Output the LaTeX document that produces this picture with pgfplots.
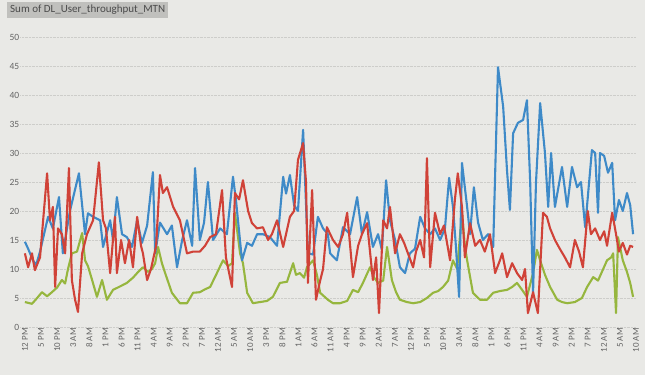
\documentclass[border=0pt]{standalone}
\usepackage{pgfplots}
\pgfplotsset{compat=1.18}
\usepackage{fontspec}
\setmainfont{Carlito}
\definecolor{bg}{RGB}{233,233,230}
\definecolor{sblue}{RGB}{62,138,200}
\definecolor{sred}{RGB}{208,66,56}
\definecolor{sgreen}{RGB}{150,182,62}
\definecolor{lbl}{RGB}{100,100,100}
\definecolor{gridc}{RGB}{205,205,202}
\begin{document}
\begin{tikzpicture}[x=1pt,y=1pt]
\fill[bg] (0,0) rectangle (645,375);
\useasboundingbox (0,0) rectangle (645,375);
\node[fill={rgb,255:red,192;green,192;blue,189}, text={rgb,255:red,75;green,75;blue,75}, anchor=north west, inner xsep=3pt, inner ysep=3pt, font=\fontsize{11}{12}\selectfont] at (7,373) {Sum of DL\_User\_throughput\_MTN};
\begin{axis}[
  at={(20.4pt,48pt)}, anchor=south west,
  scale only axis, width=615.9pt, height=290pt,
  xmin=-0.5, xmax=191, ymin=0, ymax=50,
  axis line style={draw=none},
  major tick length=0pt,
  ytick={0,5,...,50},
  ymajorgrids, grid style={gridc, densely dotted, line width=0.8pt},
  xtick={0,5,...,190},
  xticklabels={12 PM,5 PM,10 PM,3 AM,8 AM,1 PM,6 PM,11 PM,4 AM,9 AM,2 PM,7 PM,12 AM,5 AM,10 AM,3 PM,8 PM,1 AM,6 AM,11 AM,4 PM,9 PM,2 AM,7 AM,12 PM,5 PM,10 PM,3 AM,8 AM,1 PM,6 PM,11 PM,4 AM,9 AM,2 PM,7 PM,12 AM,5 AM,10 AM},
  xticklabel style={rotate=90, anchor=east, font=\fontsize{9}{10}\selectfont, text=lbl, inner sep=1pt, yshift=-3pt},
  yticklabel style={font=\fontsize{9.5}{10}\selectfont, text=lbl, inner sep=1pt},
  /pgf/number format/assume math mode=true,
  every axis plot/.append style={line width=2.1pt, line join=round, mark=none},
  clip=false,
]
\addplot[sgreen] coordinates {
(0.9,4.3)(3.1,4.0)(4.7,5.0)(6.2,6.0)(7.8,5.3)(9.3,6.0)(10.9,6.8)(12.4,8.1)(13.4,7.5)(14.3,10.0)(15.5,12.7)(17.1,13.0)(18.7,16.2)(19.6,11.5)(20.5,10.5)(21.8,8.1)(23.3,5.2)(24.9,8.1)(26.4,4.7)(28.3,6.4)(30.5,7.0)(32.6,7.6)(34.5,8.5)(35.8,9.3)(37.6,10.3)(39.2,9.5)(40.4,10.0)(41.4,11.0)(42.3,13.8)(43.5,11.0)(44.5,9.3)(46.6,5.9)(49.1,4.1)(51.3,4.1)(53.2,5.9)(55.3,6.0)(56.9,6.5)(58.5,6.9)(60.6,9.3)(62.5,11.5)(64.1,10.5)(65.3,11.0)(66.2,19.7)(67.8,12.7)(68.7,11.0)(70.0,5.9)(71.8,4.1)(74.0,4.3)(76.2,4.5)(78.0,5.2)(80.2,7.6)(82.4,7.8)(84.3,11.0)(85.2,9.0)(86.4,9.3)(87.7,8.5)(88.6,10.3)(90.5,11.5)(91.7,9.0)(92.7,5.9)(95.1,4.7)(96.7,4.1)(98.9,4.1)(101.1,4.5)(102.9,6.4)(104.5,6.0)(106.0,7.6)(108.2,10.3)(109.5,8.5)(110.7,7.6)(112.3,8.0)(113.5,13.8)(115.0,8.1)(116.3,6.0)(117.5,4.7)(119.7,4.3)(121.6,4.1)(123.8,4.3)(125.9,5.0)(127.8,5.9)(129.4,6.2)(130.9,6.9)(132.5,8.0)(134.0,11.5)(135.3,10.0)(136.8,19.7)(137.7,14.0)(138.4,11.5)(140.2,5.9)(142.4,4.7)(144.6,4.7)(146.5,5.9)(148.6,6.2)(150.8,6.4)(152.4,6.9)(153.9,7.6)(155.5,6.4)(157.0,5.2)(158.9,9.3)(160.1,13.3)(161.1,11.5)(162.6,9.0)(164.2,6.9)(166.4,4.7)(167.9,4.3)(169.5,4.1)(171.9,4.3)(174.1,5.0)(175.7,6.9)(177.6,8.6)(179.1,8.0)(180.7,10.0)(181.9,11.5)(183.2,12.0)(183.8,12.7)(184.7,2.4)(185.3,15.5)(186.8,11.5)(188.1,9.5)(189.1,7.6)(190.0,5.2)
};
\addplot[sblue] coordinates {
(0.9,14.7)(1.9,13.5)(3.4,11.5)(4.4,10.7)(5.6,13.0)(8.1,19.0)(9.6,17.0)(11.5,22.4)(12.7,12.7)(14.9,20.0)(17.7,26.5)(19.6,16.0)(20.5,19.6)(22.1,19.0)(24.3,18.4)(25.2,13.8)(27.4,18.4)(28.3,15.0)(29.5,22.4)(31.1,16.0)(32.6,15.5)(34.2,13.8)(35.8,18.4)(37.3,14.5)(38.9,17.5)(40.7,26.7)(41.4,12.7)(42.9,18.0)(45.1,16.0)(46.6,17.5)(48.2,10.3)(49.8,15.0)(51.3,18.4)(52.9,14.0)(53.8,27.4)(55.3,15.0)(56.6,18.0)(57.8,25.0)(59.4,15.0)(61.6,17.0)(63.7,16.0)(65.6,25.9)(66.5,22.0)(68.4,11.5)(70.0,14.5)(71.5,14.0)(73.1,16.0)(74.9,16.0)(77.1,15.5)(79.3,14.0)(81.2,25.9)(82.1,23.0)(83.3,26.2)(84.6,21.0)(85.8,20.0)(87.4,34.0)(88.9,12.7)(90.5,12.5)(92.0,19.0)(93.6,17.0)(95.1,16.0)(95.8,12.7)(97.9,11.5)(99.8,17.2)(102.0,16.0)(104.2,22.4)(105.7,16.0)(107.3,19.8)(109.1,13.8)(110.7,16.0)(111.9,13.3)(113.2,25.3)(114.4,18.4)(116.0,15.0)(117.5,10.3)(119.1,9.3)(120.6,12.7)(122.2,13.5)(123.8,19.0)(125.3,17.0)(126.9,16.0)(128.4,17.0)(130.0,15.0)(131.5,17.0)(132.8,25.7)(134.0,20.7)(134.9,14.0)(135.9,5.2)(136.8,28.3)(138.4,20.7)(139.3,16.0)(140.5,24.1)(141.8,18.0)(143.3,15.0)(144.9,16.0)(146.5,13.8)(148.0,44.8)(149.6,38.0)(150.8,27.0)(151.7,20.2)(152.7,33.4)(154.2,35.2)(155.8,35.7)(157.0,39.1)(158.0,25.0)(158.9,5.9)(159.8,24.8)(161.1,38.6)(162.6,30.0)(163.6,20.7)(164.5,30.0)(165.7,20.7)(167.9,27.6)(169.5,20.7)(171.0,27.6)(172.6,24.1)(173.8,25.0)(175.1,17.2)(177.2,30.5)(178.2,30.0)(179.1,19.7)(179.7,30.0)(181.0,29.5)(182.2,26.6)(183.5,28.3)(184.4,18.4)(185.6,21.9)(186.8,20.0)(188.1,23.1)(189.1,21.0)(190.0,16.0)
};
\addplot[sred] coordinates {
(0.9,12.7)(1.9,10.3)(3.1,12.7)(4.0,9.8)(5.6,12.0)(7.8,26.5)(8.7,18.4)(9.6,20.7)(10.3,6.9)(11.2,17.0)(12.4,16.0)(13.4,12.7)(14.6,27.4)(15.5,8.1)(16.5,4.7)(17.4,2.6)(18.7,12.7)(20.2,16.0)(22.1,18.4)(23.9,28.4)(25.2,18.4)(26.1,17.0)(27.4,9.3)(28.9,19.0)(29.5,9.3)(30.8,15.0)(32.0,11.0)(33.3,15.0)(34.5,10.3)(35.8,19.0)(37.0,14.0)(37.6,12.7)(38.9,8.1)(40.1,10.0)(41.7,14.0)(42.9,26.2)(43.8,23.1)(45.1,24.1)(47.0,20.7)(49.1,18.4)(51.3,12.7)(53.2,13.0)(55.3,13.0)(56.9,14.0)(58.5,15.5)(60.3,16.0)(62.2,23.6)(63.4,12.0)(65.3,6.9)(66.2,23.1)(67.5,22.0)(68.7,25.3)(70.3,20.0)(71.5,17.9)(73.1,17.0)(74.9,17.2)(76.5,15.0)(77.7,16.0)(79.3,18.4)(81.2,13.8)(83.3,19.0)(84.6,20.0)(85.8,28.8)(87.4,31.7)(88.3,25.0)(88.9,7.6)(90.2,23.6)(91.4,4.7)(92.7,8.0)(93.6,10.0)(94.8,17.2)(96.7,15.0)(98.3,13.8)(99.8,16.0)(101.1,19.7)(102.9,8.6)(104.5,14.0)(105.7,16.0)(107.3,17.9)(109.1,8.1)(110.1,12.0)(111.0,2.4)(112.3,18.4)(113.5,17.0)(114.4,20.7)(116.0,12.7)(117.5,16.0)(118.8,14.5)(120.0,12.7)(121.6,10.3)(122.5,13.0)(123.8,15.0)(125.0,12.0)(125.9,29.1)(126.9,10.3)(128.4,19.7)(130.0,16.0)(131.2,17.5)(133.1,11.5)(134.6,22.0)(135.5,26.5)(136.8,20.7)(137.7,12.0)(139.3,17.9)(140.9,14.0)(142.4,15.0)(143.9,13.0)(145.5,16.0)(147.1,9.3)(148.6,11.5)(149.3,12.7)(150.8,8.6)(152.4,11.0)(153.9,9.3)(155.5,8.1)(156.4,10.0)(157.3,2.4)(158.9,6.0)(160.4,2.4)(162.0,19.7)(163.2,19.0)(164.2,17.0)(165.7,15.0)(167.2,13.5)(168.8,12.0)(170.4,10.3)(171.9,15.0)(173.2,13.0)(174.4,10.3)(175.9,20.0)(176.9,16.0)(178.2,17.0)(179.7,15.0)(181.0,16.5)(181.9,14.0)(183.5,19.7)(184.7,16.0)(185.6,13.0)(186.8,14.5)(188.1,12.5)(189.1,14.0)(190.0,13.8)
};
\end{axis}
\end{tikzpicture}
\end{document}
